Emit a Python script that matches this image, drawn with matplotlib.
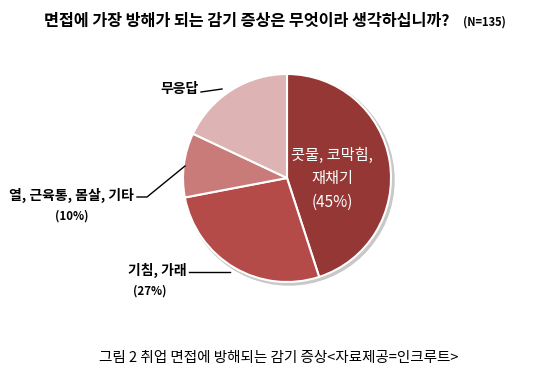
import matplotlib.pyplot as plt
from matplotlib.patches import Circle

plt.rcParams['font.family'] = ['Noto Sans CJK KR', 'DejaVu Sans']

# 데이터
labels = ['콧물, 코막힘,\n재채기', '기침, 가래', '열, 근육통, 몸살, 기타', '무응답']
values = [45, 27, 10, 18]
colors = ['#953735', '#B54B48', '#C97B79', '#DDB4B3']

W, H = 542, 376
fig = plt.figure(figsize=(W / 100, H / 100), dpi=100)
ax = fig.add_axes([0, 0, 1, 1])

cx, cy, r = 287, H - 178, 104

# 그림자
ax.add_patch(Circle((cx + 2, cy - 2), r + 1, color='#c8c8c8', zorder=0))

ax.pie(values, colors=colors, startangle=90, counterclock=False,
       center=(cx, cy), radius=r, frame=True,
       wedgeprops=dict(edgecolor='white', linewidth=1.5))

ax.set_xlim(0, W)
ax.set_ylim(0, H)
ax.set_aspect('equal')
ax.axis('off')

# 안쪽 라벨
ax.text(332, H - 155, '콧물, 코막힘,', color='white', fontsize=11, ha='center', va='center')
ax.text(332, H - 178, '재채기', color='white', fontsize=11, ha='center', va='center')
ax.text(332, H - 202, '(45%)', color='white', fontsize=11, ha='center', va='center')

# 바깥 라벨
ax.text(199, H - 89, '무응답', fontsize=10, fontweight='bold', ha='right', va='center')
ax.plot([201, 222], [H - 92, H - 89], color='black', lw=1)

ax.text(134, H - 195, '열, 근육통, 몸살, 기타', fontsize=10, fontweight='bold', ha='right', va='center')
ax.plot([137, 147, 185], [H - 197, H - 197, H - 166], color='black', lw=1)
ax.text(72, H - 216, '(10%)', fontsize=8.3, fontweight='bold', ha='center', va='center')

ax.text(187, H - 270, '기침, 가래', fontsize=10, fontweight='bold', ha='right', va='center')
ax.plot([189, 230], [H - 272, H - 272], color='black', lw=1)
ax.text(150, H - 291, '(27%)', fontsize=8.3, fontweight='bold', ha='center', va='center')

# 제목
fig.text(44 / W, 1 - 21 / H, '면접에 가장 방해가 되는 감기 증상은 무엇이라 생각하십니까?',
         fontsize=11.7, fontweight='bold', ha='left', va='center')
fig.text(463 / W, 1 - 22 / H, '(N=135)', fontsize=8, fontweight='bold', ha='left', va='center')

# 캡션
fig.text(279 / W, 1 - 358 / H, '그림 2 취업 면접에 방해되는 감기 증상<자료제공=인크루트>',
         fontsize=10.5, ha='center', va='center')

fig.savefig('out.png', dpi=100, facecolor='white')
